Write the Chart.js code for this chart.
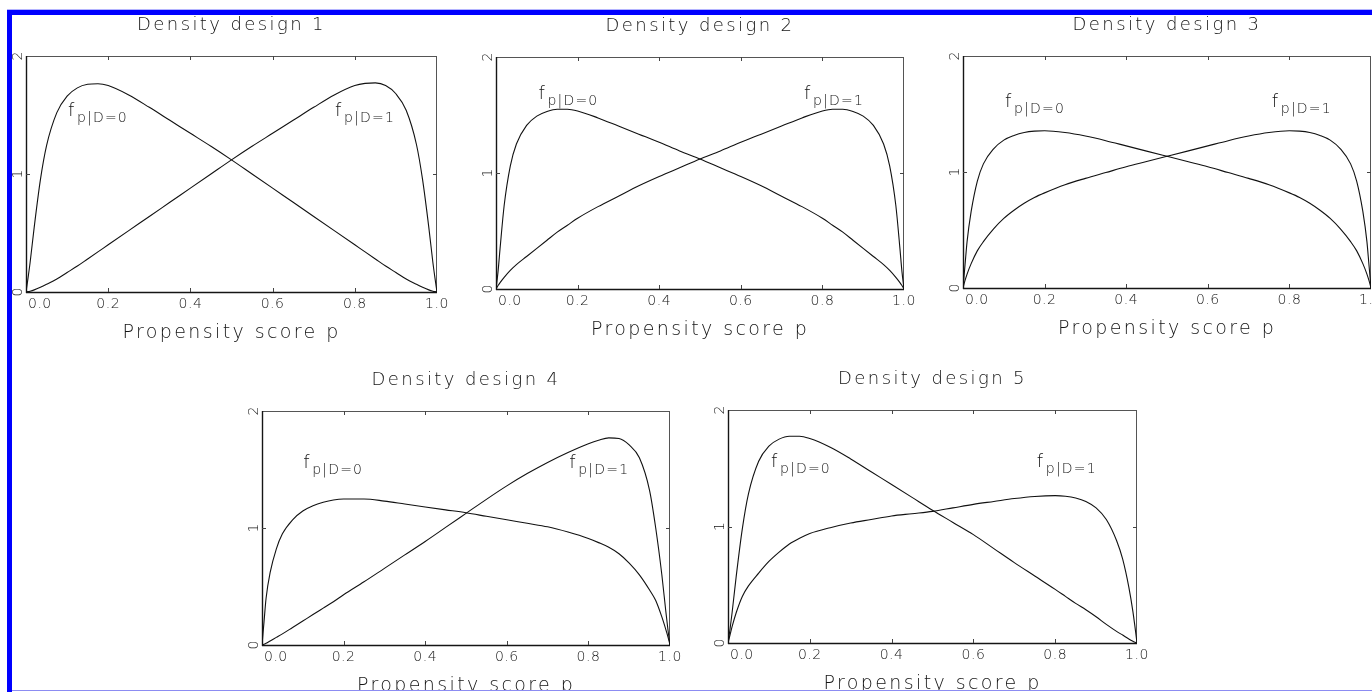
<!DOCTYPE html>
<html>
<head>
<meta charset="utf-8">
<title>Density designs</title>
<script src="https://cdn.jsdelivr.net/npm/chart.js@4.4.1/dist/chart.umd.min.js"></script>
<style>
  html, body { margin: 0; padding: 0; background: #fff; overflow: hidden; }
  #page { position: relative; width: 1372px; height: 692px; overflow: hidden; background: #fff; }
  #page canvas { position: absolute; }
  .rule { position: absolute; z-index: 5; }
</style>
</head>
<body>
<div id="page">
  <div class="rule" style="left:7px;top:9px;width:1365px;height:1px;background:#b4b4ff"></div>
  <div class="rule" style="left:7px;top:10px;width:1365px;height:5px;background:#0000ff"></div>
  <div class="rule" style="left:7px;top:10px;width:5px;height:682px;background:#0000ff"></div>
  <div class="rule" style="left:12px;top:690px;width:1360px;height:1px;background:#8c8cf2"></div>
  <div class="rule" style="left:12px;top:691px;width:1360px;height:1px;background:#fff"></div>
</div>
<script>
// Propensity score grid shared by every curve
const pGrid = [0, 0.005, 0.01, 0.02, 0.035, 0.05, 0.075, 0.1, 0.125, 0.15, 0.175, 0.2, 0.25, 0.3, 0.35, 0.4, 0.45, 0.5,
               0.55, 0.6, 0.65, 0.7, 0.75, 0.8, 0.825, 0.85, 0.875, 0.9, 0.925, 0.95, 0.965, 0.98, 0.99, 0.995, 1];

// Conditional densities of p given D=0 and D=1 for each design
const design1D0 = [0, 0.12, 0.25, 0.55, 0.95, 1.24, 1.52, 1.66, 1.73, 1.76, 1.765, 1.75, 1.67, 1.565, 1.455, 1.345, 1.235, 1.12,
                   1.00, 0.88, 0.76, 0.64, 0.52, 0.40, 0.34, 0.28, 0.22, 0.165, 0.11, 0.065, 0.04, 0.018, 0.007, 0.003, 0];
const design1D1 = [0, 0.003, 0.007, 0.018, 0.04, 0.065, 0.11, 0.165, 0.22, 0.28, 0.34, 0.40, 0.52, 0.64, 0.76, 0.88, 1.00, 1.12,
                   1.235, 1.345, 1.455, 1.565, 1.67, 1.75, 1.768, 1.772, 1.75, 1.68, 1.54, 1.25, 0.95, 0.55, 0.25, 0.12, 0];

const design2D0 = [0, 0.15, 0.35, 0.72, 1.06, 1.25, 1.41, 1.49, 1.53, 1.55, 1.55, 1.535, 1.475, 1.405, 1.335, 1.265, 1.19, 1.12,
                   1.045, 0.97, 0.89, 0.80, 0.71, 0.61, 0.55, 0.49, 0.42, 0.35, 0.28, 0.21, 0.16, 0.10, 0.055, 0.03, 0];
const design2D1 = [0, 0.03, 0.055, 0.10, 0.16, 0.21, 0.28, 0.35, 0.42, 0.49, 0.55, 0.61, 0.71, 0.80, 0.89, 0.97, 1.045, 1.12,
                   1.19, 1.265, 1.335, 1.405, 1.475, 1.535, 1.55, 1.55, 1.53, 1.49, 1.41, 1.25, 1.06, 0.72, 0.35, 0.15, 0];

const design3D0 = [0, 0.2, 0.4, 0.66, 0.92, 1.07, 1.2, 1.275, 1.315, 1.34, 1.352, 1.355, 1.34, 1.31, 1.27, 1.225, 1.18, 1.135,
                   1.09, 1.045, 0.995, 0.945, 0.89, 0.82, 0.78, 0.73, 0.67, 0.60, 0.51, 0.40, 0.32, 0.21, 0.12, 0.065, 0];
const design3D1 = [0, 0.065, 0.12, 0.21, 0.32, 0.40, 0.51, 0.60, 0.67, 0.73, 0.78, 0.82, 0.89, 0.945, 0.995, 1.045, 1.09, 1.135,
                   1.18, 1.225, 1.27, 1.31, 1.34, 1.355, 1.352, 1.34, 1.315, 1.275, 1.2, 1.07, 0.92, 0.66, 0.4, 0.2, 0];

const design4D0 = [0, 0.2, 0.4, 0.62, 0.82, 0.95, 1.07, 1.145, 1.19, 1.22, 1.24, 1.248, 1.248, 1.23, 1.205, 1.18, 1.155, 1.13,
                   1.10, 1.07, 1.04, 1.01, 0.965, 0.91, 0.875, 0.835, 0.78, 0.70, 0.60, 0.47, 0.38, 0.24, 0.13, 0.07, 0];
const design4D1 = [0, 0.006, 0.015, 0.035, 0.065, 0.095, 0.15, 0.205, 0.26, 0.315, 0.37, 0.43, 0.54, 0.655, 0.77, 0.885, 1.005, 1.125,
                   1.245, 1.36, 1.465, 1.56, 1.645, 1.72, 1.75, 1.77, 1.765, 1.71, 1.6, 1.32, 1.0, 0.6, 0.28, 0.13, 0];

const design5D0 = [0, 0.12, 0.26, 0.57, 0.98, 1.28, 1.56, 1.69, 1.75, 1.775, 1.775, 1.755, 1.68, 1.58, 1.47, 1.36, 1.25, 1.14,
                   1.035, 0.93, 0.81, 0.69, 0.575, 0.46, 0.4, 0.34, 0.285, 0.225, 0.16, 0.1, 0.068, 0.035, 0.015, 0.006, 0];
const design5D1 = [0, 0.07, 0.14, 0.26, 0.40, 0.49, 0.6, 0.7, 0.78, 0.85, 0.9, 0.94, 0.99, 1.03, 1.06, 1.09, 1.11, 1.13,
                   1.16, 1.19, 1.215, 1.24, 1.258, 1.265, 1.26, 1.245, 1.215, 1.16, 1.06, 0.88, 0.72, 0.48, 0.27, 0.14, 0];

// Axis ticks and text
const xTicks = [0, 0.2, 0.4, 0.6, 0.8, 1.0];
const xTickLabels = ['0.0', '0.2', '0.4', '0.6', '0.8', '1.0'];
const yTicks = [0, 1, 2];
const yTickLabels = ['0', '1', '2'];
const panelTitles = ['Density design 1', 'Density design 2', 'Density design 3', 'Density design 4', 'Density design 5'];
const xAxisTitle = 'Propensity score p';
const curveSubscripts = ['p|D=0', 'p|D=1'];

// Page layout: plot box (left, top, right, bottom) and where each density tag sits, in data units
const layout = [
  { box: [26, 56, 437, 292],   tags: [[0.102, 1.49], [0.752, 1.49]] },
  { box: [496, 57, 904, 289],  tags: [[0.104, 1.64], [0.755, 1.64]] },
  { box: [963, 56, 1371, 288], tags: [[0.103, 1.56], [0.757, 1.56]] },
  { box: [262, 411, 670, 645], tags: [[0.101, 1.513], [0.753, 1.513]] },
  { box: [728, 410, 1137, 643], tags: [[0.105, 1.513], [0.755, 1.513]] }
];
const seriesByPanel = [
  [design1D0, design1D1], [design2D0, design2D1], [design3D0, design3D1], [design4D0, design4D1], [design5D0, design5D1]
];

const PAD = { left: 30, top: 56, right: 30, bottom: 56 };
const FAMILY = '"DejaVu Sans", "Liberation Sans", sans-serif';
const INK = '#141414';

function seg(ctx, x1, y1, x2, y2) {
  ctx.beginPath(); ctx.moveTo(x1, y1); ctx.lineTo(x2, y2); ctx.stroke();
}

// Frame, inward tick marks and all annotation text
const framePlugin = {
  id: 'frame',
  beforeDatasetsDraw(chart) {
    const { ctx, chartArea: { left, top, right, bottom } } = chart;
    const xs = chart.scales.x, ys = chart.scales.y;
    ctx.save();
    ctx.lineCap = 'butt';
    ctx.strokeStyle = '#555'; ctx.lineWidth = 1;
    seg(ctx, left, top + 0.5, right, top + 0.5);
    seg(ctx, right - 0.5, top, right - 0.5, bottom);
    ctx.strokeStyle = '#151515'; ctx.lineWidth = 1.4;
    seg(ctx, left + 0.5, top, left + 0.5, bottom + 1);
    seg(ctx, left, bottom + 0.5, right, bottom + 0.5);
    ctx.strokeStyle = '#444'; ctx.lineWidth = 1;
    xTicks.forEach(v => {
      if (v <= xs.min || v >= xs.max) return;
      const px = Math.round(xs.getPixelForValue(v)) + 0.5;
      seg(ctx, px, bottom, px, bottom - 4);
      seg(ctx, px, top, px, top + 4);
    });
    yTicks.forEach(v => {
      if (v <= ys.min || v >= ys.max) return;
      const py = Math.round(ys.getPixelForValue(v)) + 0.5;
      seg(ctx, left, py, left + 4, py);
      seg(ctx, right, py, right - 4, py);
    });
    ctx.restore();
  },
  afterDraw(chart, args, opts) {
    const { ctx, chartArea: { left, top, right, bottom } } = chart;
    const xs = chart.scales.x, ys = chart.scales.y;
    ctx.save();
    ctx.fillStyle = INK;
    ctx.textBaseline = 'alphabetic';

    // x tick labels; the first one starts just inside the frame
    ctx.font = '200 14px ' + FAMILY;
    ctx.letterSpacing = '0.5px';
    xTicks.forEach((v, i) => {
      const px = xs.getPixelForValue(v);
      if (i === 0) { ctx.textAlign = 'left'; ctx.fillText(xTickLabels[i], px + 2, bottom + 16); }
      else { ctx.textAlign = 'center'; ctx.fillText(xTickLabels[i], px, bottom + 16); }
    });

    // y tick labels, turned to read upward
    ctx.letterSpacing = '0px';
    yTicks.forEach((v, i) => {
      const py = ys.getPixelForValue(v);
      ctx.save();
      ctx.translate(left - 4, py);
      ctx.rotate(-Math.PI / 2);
      ctx.textAlign = 'center';
      ctx.fillText(yTickLabels[i], 0, 0);
      ctx.restore();
    });

    // panel title and axis title
    const cx = (left + right) / 2;
    ctx.textAlign = 'center';
    ctx.font = '200 18px ' + FAMILY;
    ctx.letterSpacing = '2.4px';
    ctx.fillText(opts.title, cx, top - 26);
    ctx.font = '200 19px ' + FAMILY;
    ctx.letterSpacing = '2.4px';
    ctx.fillText(xAxisTitle, cx, bottom + 46);

    // f with subscript next to each curve
    opts.tags.forEach((t, k) => {
      const px = xs.getPixelForValue(t[0]);
      const py = ys.getPixelForValue(t[1]);
      ctx.textAlign = 'left';
      ctx.font = '200 18px ' + FAMILY;
      ctx.letterSpacing = '0px';
      ctx.fillText('f', px, py);
      ctx.font = '200 14px ' + FAMILY;
      ctx.letterSpacing = '1.2px';
      ctx.fillText(curveSubscripts[k], px + 9, py + 6);
    });
    ctx.restore();
  }
};

const page = document.getElementById('page');
layout.forEach((panel, idx) => {
  const [l, t, r, b] = panel.box;
  const w = (r - l) + PAD.left + PAD.right;
  const h = (b - t) + PAD.top + PAD.bottom;
  const canvas = document.createElement('canvas');
  canvas.width = w; canvas.height = h;
  canvas.style.left = (l - PAD.left) + 'px';
  canvas.style.top = (t - PAD.top) + 'px';
  canvas.style.width = w + 'px';
  canvas.style.height = h + 'px';
  page.appendChild(canvas);

  const [d0, d1] = seriesByPanel[idx];
  const line = vals => ({
    data: pGrid.map((p, i) => ({ x: p, y: vals[i] })),
    borderColor: '#111',
    borderWidth: 1.1,
    pointRadius: 0,
    fill: false,
    cubicInterpolationMode: 'monotone'
  });

  new Chart(canvas, {
    type: 'line',
    data: { datasets: [line(d0), line(d1)] },
    options: {
      responsive: false,
      animation: false,
      devicePixelRatio: 1,
      events: [],
      layout: { padding: PAD },
      scales: {
        x: { type: 'linear', min: 0, max: 1, display: false },
        y: { type: 'linear', min: 0, max: 2, display: false }
      },
      plugins: {
        legend: { display: false },
        tooltip: { enabled: false },
        frame: { title: panelTitles[idx], tags: panel.tags }
      }
    },
    plugins: [framePlugin]
  });
});
</script>
</body>
</html>
